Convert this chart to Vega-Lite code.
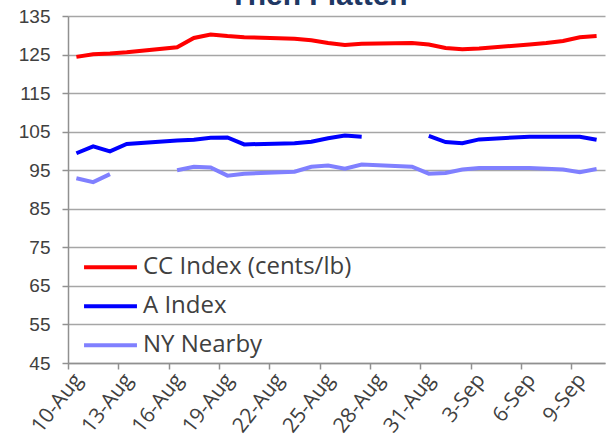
{
  "$schema": "https://vega.github.io/schema/vega-lite/v6.json",
  "width": 537,
  "height": 347,
  "autosize": {"type": "none"},
  "padding": {"left": 68, "top": 16, "right": 3, "bottom": 76},
  "background": "white",
  "title": {"text": "Then Flatten", "font": "Liberation Sans", "fontSize": 30, "fontWeight": "bold", "color": "#1F3864", "offset": 0, "dy": 4, "dx": -18, "anchor": "middle", "frame": "group"},
  "data": {"values": [
    {"date": "2010/08/10", "cc": 124.4, "a": 99.4, "ny": 92.9},
    {"date": "2010/08/11", "cc": 125.1, "a": 101.2, "ny": 91.9},
    {"date": "2010/08/12", "cc": 125.3, "a": 99.9, "ny": 94.0},
    {"date": "2010/08/13", "cc": 125.6, "a": 101.8, "ny": null},
    {"date": "2010/08/16", "cc": 126.9, "a": 102.7, "ny": 95.0},
    {"date": "2010/08/17", "cc": 129.3, "a": 102.9, "ny": 95.9},
    {"date": "2010/08/18", "cc": 130.2, "a": 103.4, "ny": 95.7},
    {"date": "2010/08/19", "cc": 129.8, "a": 103.5, "ny": 93.6},
    {"date": "2010/08/20", "cc": 129.5, "a": 101.7, "ny": 94.1},
    {"date": "2010/08/23", "cc": 129.1, "a": 102.0, "ny": 94.6},
    {"date": "2010/08/24", "cc": 128.7, "a": 102.4, "ny": 95.9},
    {"date": "2010/08/25", "cc": 128.0, "a": 103.3, "ny": 96.2},
    {"date": "2010/08/26", "cc": 127.5, "a": 104.0, "ny": 95.4},
    {"date": "2010/08/27", "cc": 127.8, "a": 103.7, "ny": 96.5},
    {"date": "2010/08/30", "cc": 128.0, "a": null, "ny": 95.9},
    {"date": "2010/08/31", "cc": 127.6, "a": 103.9, "ny": 94.1},
    {"date": "2010/09/01", "cc": 126.7, "a": 102.3, "ny": 94.3},
    {"date": "2010/09/02", "cc": 126.4, "a": 102.0, "ny": 95.2},
    {"date": "2010/09/03", "cc": 126.6, "a": 103.0, "ny": 95.6},
    {"date": "2010/09/06", "cc": 127.6, "a": 103.7, "ny": 95.6},
    {"date": "2010/09/07", "cc": 128.0, "a": 103.7, "ny": 95.4},
    {"date": "2010/09/08", "cc": 128.5, "a": 103.7, "ny": 95.2},
    {"date": "2010/09/09", "cc": 129.5, "a": 103.7, "ny": 94.5},
    {"date": "2010/09/10", "cc": 129.8, "a": 102.9, "ny": 95.3}
  ]},
  "transform": [{"fold": ["cc", "a", "ny"], "as": ["series", "value"]}],
  "mark": {"type": "line", "strokeWidth": 4, "invalid": "break-paths-show-domains"},
  "encoding": {
    "x": {
      "field": "date", "type": "temporal", "timeUnit": "yearmonthdate", "bandPosition": 0.5,
      "scale": {"domain": [{"year": 2010, "month": 8, "date": 10}, {"year": 2010, "month": 9, "date": 11}]},
      "axis": {
        "title": null,
        "values": [
          {"year": 2010, "month": 8, "date": 10}, {"year": 2010, "month": 8, "date": 13},
          {"year": 2010, "month": 8, "date": 16}, {"year": 2010, "month": 8, "date": 19},
          {"year": 2010, "month": 8, "date": 22}, {"year": 2010, "month": 8, "date": 25},
          {"year": 2010, "month": 8, "date": 28}, {"year": 2010, "month": 8, "date": 31},
          {"year": 2010, "month": 9, "date": 3}, {"year": 2010, "month": 9, "date": 6},
          {"year": 2010, "month": 9, "date": 9}
        ],
        "format": "%-d-%b",
        "labelAngle": -52,
        "labelAlign": "right",
        "labelBaseline": "middle",
        "labelOffset": 10,
        "labelFont": "Open Sans",
        "labelFontSize": 21,
        "labelColor": "#404040",
        "labelPadding": 7,
        "tickSize": 6,
        "tickColor": "#909090",
        "tickWidth": 1.5,
        "domainColor": "#909090",
        "domainWidth": 1.5,
        "grid": false,
        "labelOverlap": false
      }
    },
    "y": {
      "field": "value", "type": "quantitative",
      "scale": {"domain": [45, 135], "nice": false, "zero": false},
      "axis": {
        "title": null,
        "values": [45, 55, 65, 75, 85, 95, 105, 115, 125, 135],
        "labelFont": "Liberation Sans",
        "labelFontSize": 19,
        "labelColor": "#404040",
        "labelPadding": 12,
        "tickSize": 6,
        "tickColor": "#909090",
        "tickWidth": 1.5,
        "domainColor": "#909090",
        "domainWidth": 1.5,
        "gridColor": "#A6A6A6",
        "gridWidth": 1.5,
        "labelOverlap": false
      }
    },
    "color": {
      "field": "series", "type": "nominal",
      "scale": {"domain": ["cc", "a", "ny"], "range": ["#FF0000", "#0000FF", "#8080FF"]},
      "legend": {
        "title": null,
        "orient": "none",
        "legendX": 14,
        "legendY": 232,
        "symbolType": "stroke",
        "symbolSize": 2800,
        "symbolStrokeWidth": 4,
        "labelFont": "Open Sans",
        "labelFontSize": 24,
        "labelColor": "#404040",
        "labelOffset": 4,
        "labelLimit": 400,
        "rowPadding": 0,
        "clipHeight": 38.7,
        "labelExpr": "datum.value == 'cc' ? 'CC Index (cents/lb)' : datum.value == 'a' ? 'A Index' : 'NY Nearby'"
      }
    }
  },
  "config": {"view": {"stroke": null}}
}
